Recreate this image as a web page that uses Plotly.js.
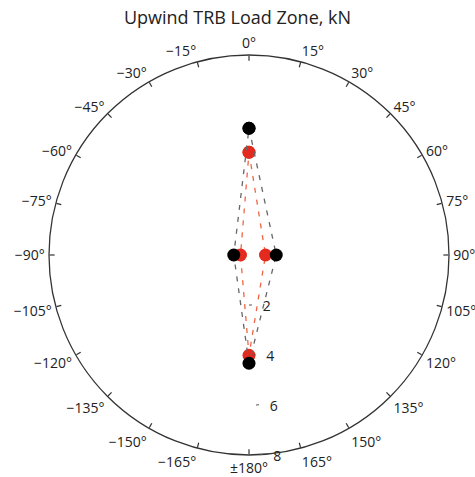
<!DOCTYPE html>
<html>
<head>
<meta charset="utf-8">
<script src="https://cdn.plot.ly/plotly-3.0.1.min.js"></script>
<style>html,body{margin:0;padding:0;background:#fff;}#chart{width:475px;height:477px;}</style>
</head>
<body>
<div id="chart"></div>
<script>
// Directions (degrees, clockwise from top)
var theta = [0, 90, 180, -90, 0];
// Series values (kN)
var redLoads = [4.11, 0.66, 4.01, 0.34, 4.11];
var blackLoads = [5.07, 1.09, 4.33, 0.61, 5.07];
// Angular tick labels
var angTickVals = [0,15,30,45,60,75,90,105,120,135,150,165,180,195,210,225,240,255,270,285,300,315,330,345];
var angTickText = ['0°','15°','30°','45°','60°','75°','90°','105°','120°','135°','150°','165°','±180°',
  '−165°','−150°','−135°','−120°','−105°','−90°','−75°','−60°','−45°','−30°','−15°'];
var radTickVals = [2, 4, 6, 8];

var traces = [
  {type:'scatterpolar', subplot:'polar', mode:'lines+markers', r:redLoads, theta:theta,
   line:{color:'#ee6545', width:1.3, dash:'5px,7px'},
   marker:{color:'#e42a1e', size:13}, showlegend:false, hoverinfo:'r+theta'},
  {type:'scatterpolar', subplot:'polar2', mode:'lines+markers', r:blackLoads, theta:theta,
   line:{color:'#666666', width:1.3, dash:'5px,7px'},
   marker:{color:'#000000', size:13}, showlegend:false, hoverinfo:'r+theta'}
];

var common = {
  direction:'clockwise', rotation:90, tickmode:'array',
  tickvals:angTickVals, ticktext:angTickText, showgrid:false
};

var layout = {
  width:475, height:477,
  margin:{l:49, r:26, t:55, b:22},
  paper_bgcolor:'#fff',
  font:{family:'Open Sans, sans-serif', color:'#222', size:14},
  title:{text:'Upwind TRB Load Zone, kN', x:0.5, xanchor:'center', y:0.962, yanchor:'middle',
         font:{size:18, color:'#222'}},
  polar:{
    bgcolor:'#fff',
    domain:{x:[0,1], y:[0,1]},
    angularaxis:Object.assign({}, common, {
      showline:true, linecolor:'#333', linewidth:1.3,
      ticks:'inside', ticklen:5, tickcolor:'#333', tickwidth:1.2, showticklabels:false}),
    radialaxis:{range:[0,8], angle:-86, tickangle:-86, tickmode:'array', tickvals:radTickVals,
      showgrid:false, showline:false, ticks:'inside', ticklen:3, tickcolor:'#555',
      tickfont:{size:14, color:'#222'}, side:'counterclockwise'}
  },
  polar2:{
    bgcolor:'rgba(0,0,0,0)',
    domain:{x:[0,1], y:[0,1]},
    angularaxis:Object.assign({}, common, {
      showline:false, ticks:'outside', ticklen:1, tickcolor:'rgba(0,0,0,0)',
      showticklabels:true, tickfont:{size:14, color:'#222'}}),
    radialaxis:{range:[0,8], visible:false, showgrid:false}
  }
};
Plotly.newPlot('chart', traces, layout, {displayModeBar:false, staticPlot:true});
</script>
</body>
</html>
